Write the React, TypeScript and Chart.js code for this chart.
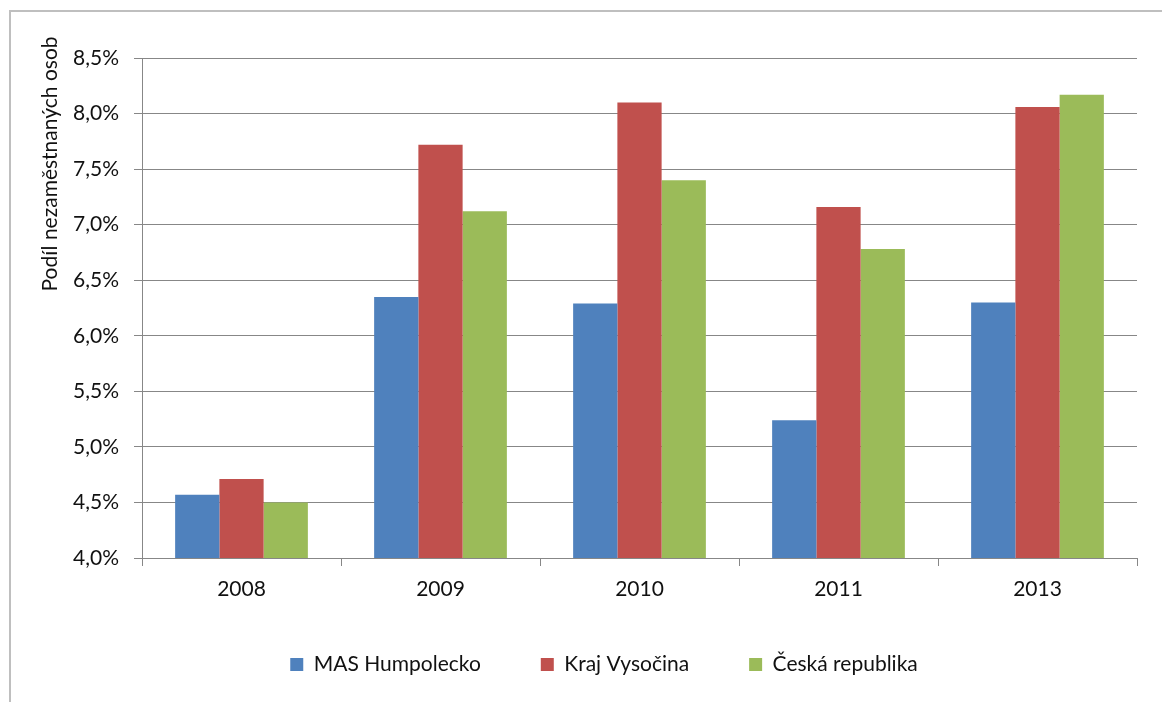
import React, { useEffect, useRef } from 'react';
import { Chart, registerables } from 'chart.js';

Chart.register(...registerables);

const categories = ['2008', '2009', '2010', '2011', '2013'];
const seriesNames = ['MAS Humpolecko', 'Kraj Vysočina', 'Česká republika'];
const masHumpolecko = [4.57, 6.35, 6.29, 5.24, 6.3];
const krajVysocina = [4.71, 7.72, 8.1, 7.16, 8.06];
const ceskaRepublika = [4.5, 7.12, 7.4, 6.78, 8.17];
const yAxisTitle = 'Podíl nezaměstnaných osob';
const yMin = 4;
const yMax = 8.5;
const yStep = 0.5;

const FONT_FAMILY = 'Lato';
const FONT_SIZE = 21;
const TEXT_COLOR = '#111111';
const GRID_COLOR = '#878787';

const framePlugin = {
  id: 'frame',
  beforeDraw(chart: any) {
    const { ctx, width, height } = chart;
    ctx.save();
    ctx.fillStyle = '#ffffff';
    ctx.fillRect(0, 0, width, height);
    ctx.strokeStyle = '#bfbfbf';
    ctx.lineWidth = 2;
    ctx.strokeRect(10, 11, width + 20, height + 20);
    ctx.restore();
  },
};

const yTitlePlugin = {
  id: 'yTitle',
  afterDraw(chart: any) {
    const { ctx } = chart;
    ctx.save();
    ctx.translate(50, 164);
    ctx.rotate(-Math.PI / 2);
    ctx.font = `${FONT_SIZE}px ${FONT_FAMILY}`;
    ctx.fillStyle = TEXT_COLOR;
    ctx.textAlign = 'center';
    ctx.textBaseline = 'middle';
    ctx.fillText(yAxisTitle, 0, 0);
    ctx.restore();
  },
};

export default function App() {
  const ref = useRef<HTMLCanvasElement>(null);

  useEffect(() => {
    const font = { family: FONT_FAMILY, size: FONT_SIZE };
    const chart = new Chart(ref.current as HTMLCanvasElement, {
      type: 'bar',
      data: {
        labels: categories,
        datasets: [
          { label: seriesNames[0], data: masHumpolecko, backgroundColor: '#4F81BD', borderWidth: 0 },
          { label: seriesNames[1], data: krajVysocina, backgroundColor: '#C0504D', borderWidth: 0 },
          { label: seriesNames[2], data: ceskaRepublika, backgroundColor: '#9BBB59', borderWidth: 0 },
        ],
      },
      options: {
        responsive: false,
        maintainAspectRatio: false,
        animation: false,
        layout: { padding: { top: 58, right: 25, bottom: 17, left: 71 } },
        datasets: { bar: { categoryPercentage: 0.667, barPercentage: 1 } },
        scales: {
          x: {
            grid: { drawOnChartArea: false, drawTicks: true, tickLength: 8, color: GRID_COLOR, offset: true },
            border: { color: GRID_COLOR },
            ticks: { font, color: TEXT_COLOR, padding: 11 },
            afterFit: (s: any) => {
              s.height = 36;
              s._computeLabelArea = () => undefined;
            },
          },
          y: {
            min: yMin,
            max: yMax,
            ticks: {
              stepSize: yStep,
              font,
              color: TEXT_COLOR,
              padding: 15,
              callback: (v: any) => Number(v).toFixed(1).replace('.', ',') + '%',
            },
            grid: { color: GRID_COLOR, tickLength: 8 },
            border: { color: GRID_COLOR },
            afterFit: (s: any) => {
              s.width = 71;
              s._computeLabelArea = () => undefined;
            },
          },
        },
        plugins: {
          legend: {
            position: 'bottom',
            labels: { boxWidth: 13, boxHeight: 13, padding: 60, font, color: TEXT_COLOR },
          },
          tooltip: { enabled: false },
        },
      },
      plugins: [framePlugin, yTitlePlugin],
    });
    return () => chart.destroy();
  }, []);

  return (
    <canvas
      ref={ref}
      width={1162}
      height={702}
      style={{ position: 'fixed', left: 0, top: 0, width: 1162, height: 702 }}
    />
  );
}
